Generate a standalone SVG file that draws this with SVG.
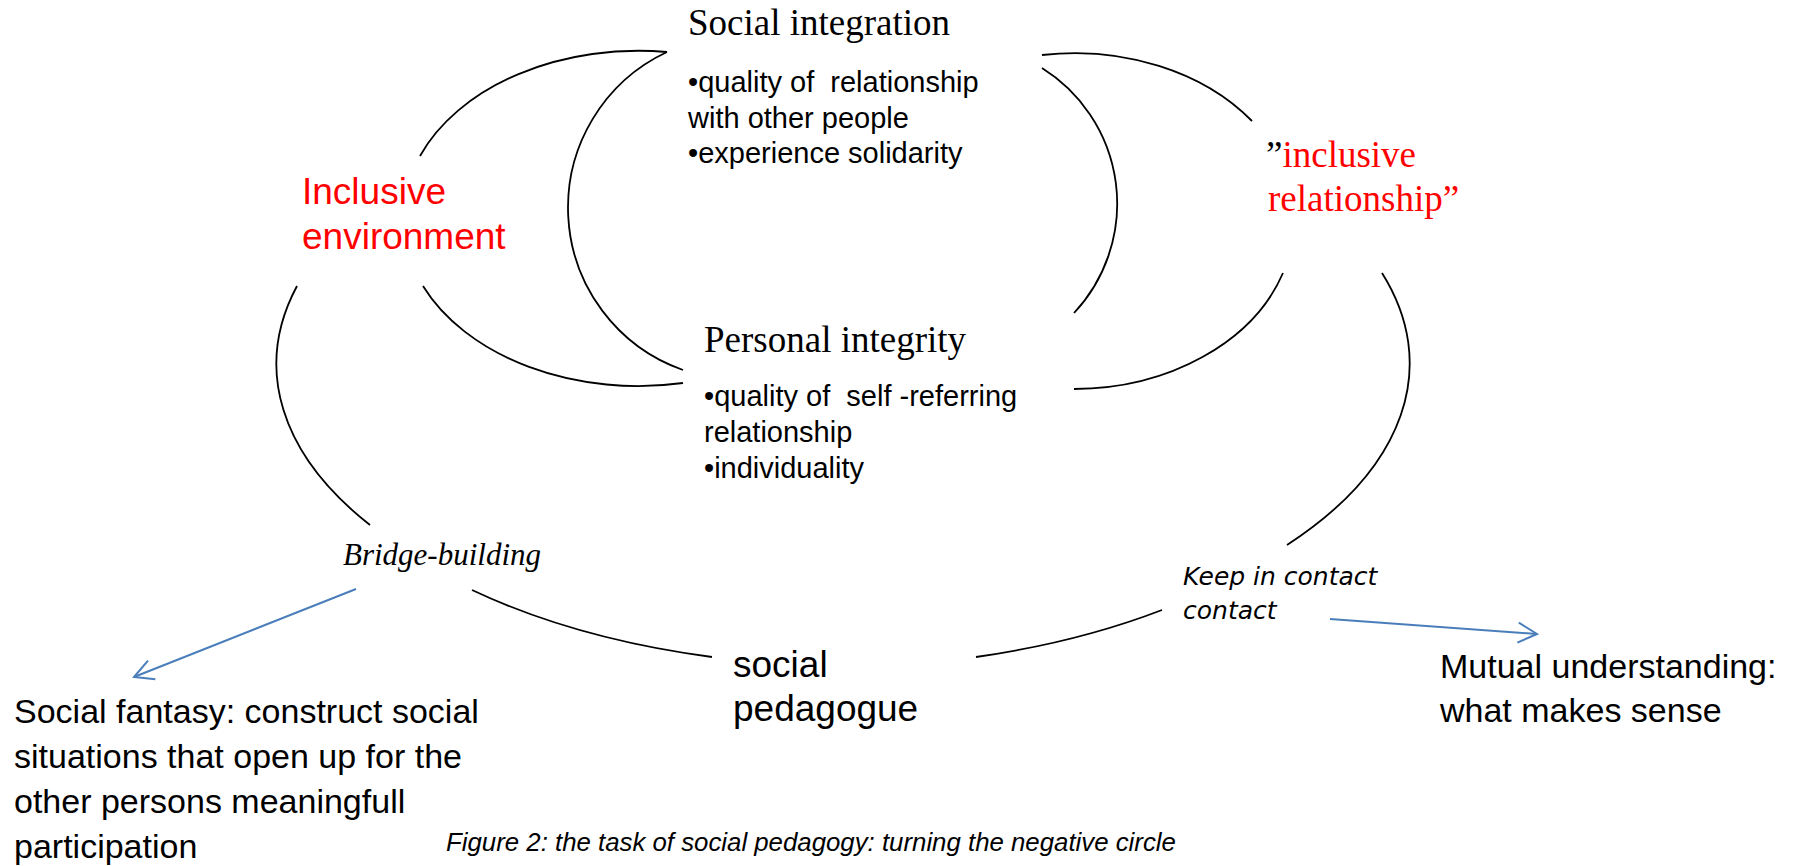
<svg xmlns="http://www.w3.org/2000/svg" width="1805" height="866" viewBox="0 0 1805 866">
  <style>
    .arc { fill: none; stroke: #000; stroke-width: 1.8; }
    .blue { fill: none; stroke: #4a7ebb; stroke-width: 2; }
    .serif { font-family: "Liberation Serif", "Times New Roman", serif; }
    .sans { font-family: "Liberation Sans", Arial, sans-serif; }
    .head { font-size: 37px; fill: #000; }
    .bullet { font-size: 29px; fill: #000; white-space: pre; }
    .red { fill: #ff0000; }
    .big { font-size: 37px; }
    .note { font-family: "Liberation Sans", Arial, sans-serif; font-size: 34px; fill: #000; }
    .comic { font-family: "DejaVu Sans", sans-serif; font-style: oblique; font-size: 25px; fill: #000; }
  </style>
  <defs>
    <marker id="arr" markerUnits="userSpaceOnUse" markerWidth="24" markerHeight="24" viewBox="-22 -12 24 24" refX="0" refY="0" orient="auto">
      <path d="M -19 -10 L 0 0 L -19 10" fill="none" stroke="#4a7ebb" stroke-width="2"/>
    </marker>
  </defs>
  <rect width="1805" height="866" fill="#ffffff"/>

  <g id="connectors">
    <!-- left ellipse (Inclusive environment) -->
    <path class="arc" d="M 420 156 A 235 167 0 0 1 667 52"/>
    <path class="arc" d="M 423 286 A 235 167 0 0 0 683 383"/>
    <path class="arc" d="M 667 52 A 172 172 0 0 0 683 370"/>
    <!-- right ellipse (inclusive relationship) -->
    <path class="arc" d="M 1042 55 A 221 169 0 0 1 1252 121"/>
    <path class="arc" d="M 1283 273 A 221 169 0 0 1 1074 389"/>
    <path class="arc" d="M 1042 68 A 160 160 0 0 1 1074 313"/>
    <!-- outer circle -->
    <path class="arc" d="M 297 286 A 565 292 0 0 0 370 525"/>
    <path class="arc" d="M 472 590 A 565 292 0 0 0 712 657"/>
    <path class="arc" d="M 976 657 A 565 292 0 0 0 1162 610"/>
    <path class="arc" d="M 1287 545 A 565 292 0 0 0 1382 273"/>
    <!-- blue arrows -->
    <path class="blue" d="M 356 589 L 134 677" marker-end="url(#arr)"/>
    <path class="blue" d="M 1330 619 L 1537 634" marker-end="url(#arr)"/>
  </g>

  <g id="social-integration">
    <text class="serif head" x="688" y="35">Social integration</text>
    <text class="sans bullet" x="688" y="92" xml:space="preserve">•quality of  relationship</text>
    <text class="sans bullet" x="688" y="128">with other people</text>
    <text class="sans bullet" x="688" y="163">•experience solidarity</text>
  </g>

  <g id="personal-integrity">
    <text class="serif head" x="704" y="352">Personal integrity</text>
    <text class="sans bullet" x="704" y="406" xml:space="preserve">•quality of  self -referring</text>
    <text class="sans bullet" x="704" y="442">relationship</text>
    <text class="sans bullet" x="704" y="478">•individuality</text>
  </g>

  <g id="inclusive-environment">
    <text class="sans big red" x="302" y="204">Inclusive</text>
    <text class="sans big red" x="302" y="249">environment</text>
  </g>

  <g id="inclusive-relationship">
    <text class="serif big" x="1266" y="167"><tspan fill="#000">”</tspan><tspan fill="#ff0000">inclusive</tspan></text>
    <text class="serif big red" x="1268" y="211">relationship”</text>
  </g>

  <g id="bridge-building">
    <text class="serif" x="343" y="565" font-size="31" font-style="italic" fill="#000">Bridge-building</text>
  </g>

  <g id="keep-in-contact">
    <text class="comic" x="1183" y="585">Keep in contact</text>
    <text class="comic" x="1183" y="619">contact</text>
  </g>

  <g id="social-pedagogue">
    <text class="sans big" x="733" y="677" fill="#000">social</text>
    <text class="sans big" x="733" y="721" fill="#000">pedagogue</text>
  </g>

  <g id="social-fantasy">
    <text class="note" x="14" y="723">Social fantasy: construct social</text>
    <text class="note" x="14" y="768">situations that open up for the</text>
    <text class="note" x="14" y="813">other persons meaningfull</text>
    <text class="note" x="14" y="858">participation</text>
  </g>

  <g id="mutual-understanding">
    <text class="note" x="1440" y="678" font-size="34.8">Mutual understanding:</text>
    <text class="note" x="1440" y="722" font-size="34.8">what makes sense</text>
  </g>

  <g id="caption">
    <text class="sans" x="446" y="851" font-size="25.8" font-style="italic" fill="#000">Figure 2: the task of social pedagogy: turning the negative circle</text>
  </g>
</svg>
